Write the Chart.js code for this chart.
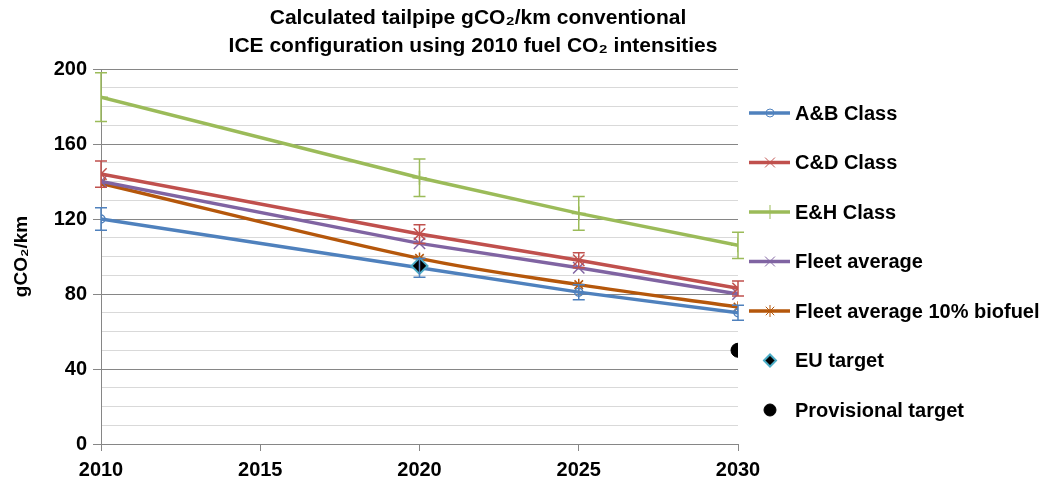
<!DOCTYPE html>
<html>
<head>
<meta charset="utf-8">
<script src="https://cdn.jsdelivr.net/npm/chart.js@4"></script>
<style>
  html, body { margin: 0; padding: 0; background: #fff; }
  #wrap { width: 1055px; height: 490px; }
</style>
</head>
<body>
<div id="wrap"><canvas id="co2-chart" width="1055" height="490"></canvas></div>
<script>
  "use strict";

  var years = [2010, 2020, 2025, 2030];
  var abClass = [120, 94, 81, 70];
  var cdClass = [144, 112, 98, 83];
  var ehClass = [185, 142, 123, 106];
  var fleetAvg = [140, 107, 94, 80];
  var fleetBio = [139, 99, 85, 73];
  var abErr = [6, 5, 4, 4];
  var cdErr = [7, 5, 4, 4];
  var ehErr = [13, 10, 9, 7];
  var euYear = [2020], euTarget = [95];
  var provYear = [2030], provTarget = [50];
  var xTicks = [2010, 2015, 2020, 2025, 2030];
  var yMajor = [0, 40, 80, 120, 160, 200];
  var titleLines = ["Calculated tailpipe gCO\u2082/km conventional",
                    "ICE configuration using 2010 fuel CO\u2082 intensities"];

  function pts(xs, ys) {
    return xs.map(function (x, i) { return { x: x, y: ys[i] }; });
  }

  var FONT = "'Liberation Sans', Arial, sans-serif";

  function lineSet(label, ys, color, style, radius, errs, tension) {
    return {
      label: label,
      data: pts(years, ys),
      borderColor: color,
      backgroundColor: color,
      borderWidth: 3.5,
      pointStyle: style,
      pointRadius: radius,
      pointBorderWidth: 1.5,
      pointBackgroundColor: style === "circle" ? "rgba(255,255,255,0)" : color,
      pointBorderColor: color,
      tension: tension || 0,
      errors: errs || null
    };
  }

  var datasets = [
    lineSet("A&B Class", abClass, "#4F81BD", "circle", 4, abErr),
    lineSet("C&D Class", cdClass, "#C0504D", "crossRot", 8, cdErr),
    lineSet("E&H Class", ehClass, "#9BBB59", "cross", 7, ehErr),
    lineSet("Fleet average", fleetAvg, "#8064A2", "crossRot", 8),
    lineSet("Fleet average 10% biofuel", fleetBio, "#B5570B", "star", 6, null, 0.35),
    {
      label: "EU target",
      data: pts(euYear, euTarget),
      showLine: false,
      order: -1,
      pointStyle: "rectRot",
      pointRadius: 8,
      pointBorderWidth: 2,
      pointBackgroundColor: "#000",
      pointBorderColor: "#4BACC6"
    },
    {
      label: "Provisional target",
      data: pts(provYear, provTarget),
      showLine: false,
      order: -1,
      pointStyle: "circle",
      pointRadius: 7,
      pointBorderWidth: 1,
      pointBackgroundColor: "#000",
      pointBorderColor: "#000"
    }
  ];

  // error bars drawn from the dataset's errors array via the scales
  var errorBars = {
    id: "errorBars",
    afterDatasetsDraw: function (chart) {
      var ctx = chart.ctx, xs = chart.scales.x, ys = chart.scales.y;
      chart.data.datasets.forEach(function (ds) {
        if (!ds.errors) return;
        ctx.save();
        ctx.strokeStyle = ds.borderColor;
        ctx.lineWidth = 1.5;
        ds.data.forEach(function (p, i) {
          var px = xs.getPixelForValue(p.x);
          var top = ys.getPixelForValue(p.y + ds.errors[i]);
          var bot = ys.getPixelForValue(p.y - ds.errors[i]);
          ctx.beginPath();
          ctx.moveTo(px, top); ctx.lineTo(px, bot);
          ctx.moveTo(px - 6, top); ctx.lineTo(px + 6, top);
          ctx.moveTo(px - 6, bot); ctx.lineTo(px + 6, bot);
          ctx.stroke();
        });
        ctx.restore();
      });
    }
  };

  var titleAndLegend = {
    id: "titleAndLegend",
    afterDraw: function (chart) {
      var ctx = chart.ctx;
      ctx.save();
      ctx.fillStyle = "#000";
      ctx.textAlign = "center";
      ctx.textBaseline = "middle";
      ctx.font = "bold 21px " + FONT;
      ctx.fillText(titleLines[0], 478, 18);
      ctx.fillText(titleLines[1], 473, 46);

      // legend
      ctx.textAlign = "left";
      ctx.font = "bold 20px " + FONT;
      chart.data.datasets.forEach(function (ds, i) {
        var y = 113 + i * 49.5;
        if (ds.showLine !== false) {
          ctx.strokeStyle = ds.borderColor;
          ctx.lineWidth = 3.5;
          ctx.beginPath();
          ctx.moveTo(749, y); ctx.lineTo(790, y);
          ctx.stroke();
        }
        ctx.strokeStyle = ds.pointBorderColor;
        ctx.fillStyle = ds.pointBackgroundColor;
        ctx.lineWidth = ds.showLine !== false ? 1 : ds.pointBorderWidth;
        var r = ds.showLine !== false ? Math.min(ds.pointRadius, 7) : 6;
        Chart.helpers.drawPoint(ctx, { pointStyle: ds.pointStyle, radius: r, rotation: 0, borderWidth: ctx.lineWidth }, 770, y);
        ctx.fillStyle = "#000";
        ctx.fillText(ds.label, 795, y + 1);
      });
      ctx.restore();
    }
  };

  new Chart(document.getElementById("co2-chart").getContext("2d"), {
    type: "line",
    data: { datasets: datasets },
    options: {
      responsive: false,
      animation: false,
      layout: { padding: { top: 69, right: 317, left: 0, bottom: 0 } },
      plugins: { legend: { display: false }, tooltip: { enabled: false } },
      scales: {
        x: {
          type: "linear",
          min: xTicks[0],
          max: xTicks[xTicks.length - 1],
          afterBuildTicks: function (scale) {
            scale.ticks = xTicks.map(function (v) { return { value: v }; });
          },
          afterFit: function (scale) { scale.height = 46; },
          grid: { drawOnChartArea: false, tickLength: 7, color: "#868686" },
          border: { color: "#868686", width: 1 },
          ticks: {
            color: "#000",
            font: { family: FONT, size: 20, weight: "bold" },
            padding: 7,
            maxRotation: 0,
            callback: function (v) { return String(v); }
          }
        },
        y: {
          min: 0,
          max: 200,
          afterBuildTicks: function (scale) {
            var t = [];
            for (var v = 0; v <= 200; v += 10) t.push({ value: v });
            scale.ticks = t;
          },
          ticks: {
            autoSkip: false,
            color: "#000",
            font: { family: FONT, size: 20, weight: "bold" },
            padding: 6,
            callback: function (v) { return yMajor.indexOf(v) >= 0 ? String(v) : ""; }
          },
          afterFit: function (scale) { scale.width = 101; },
          grid: {
            tickLength: 8,
            color: function (c) { return c.tick.value % 40 === 0 ? "#868686" : "#D9D9D9"; },
            tickColor: function (c) { return c.tick.value % 40 === 0 ? "#868686" : "rgba(0,0,0,0)"; }
          },
          border: { color: "#868686", width: 1 },
          title: {
            display: true,
            text: "gCO\u2082/km",
            color: "#000",
            font: { family: FONT, size: 19, weight: "bold" },
            padding: { top: 10, bottom: 0 }
          }
        }
      }
    },
    plugins: [errorBars, titleAndLegend]
  });
</script>
</body>
</html>
